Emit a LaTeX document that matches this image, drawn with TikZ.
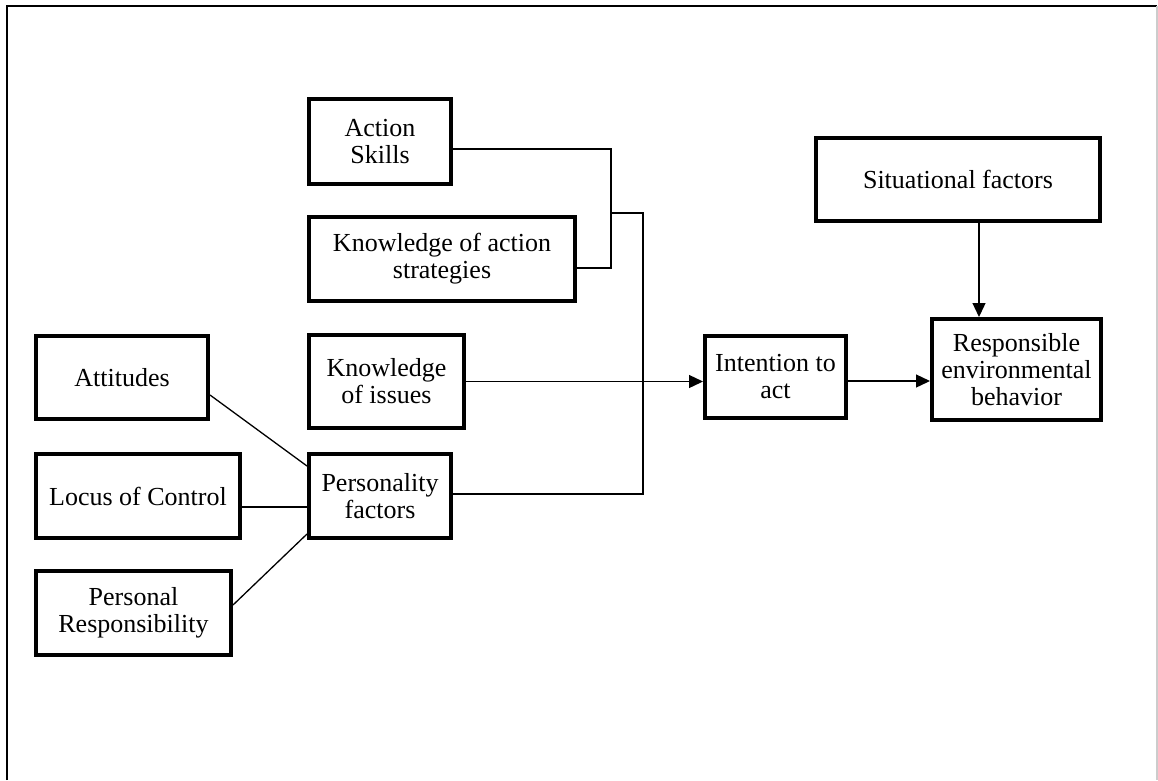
\documentclass[tikz,border=0pt]{standalone}
\usepackage{fontspec}
\setmainfont{Liberation Serif}
\usetikzlibrary{arrows.meta}
\begin{document}
\begin{tikzpicture}[x=1pt,y=-1pt,
  box/.style={draw=black,line width=4pt,fill=white,inner sep=0pt,align=center,
    font=\fontsize{26}{27}\selectfont},
  conn/.style={draw=black,line width=1.3pt},
  arr/.style={conn,-{Triangle[length=14pt,width=13pt]}}]
\useasboundingbox (0,0) rectangle (1158,780);
% frame
\draw[line width=2pt] (7,780) -- (7,6) -- (1157,6);
\draw[line width=1.2pt,black!20] (1157,6) -- (1157,780);
% nodes
\node[box,minimum width=142pt,minimum height=85pt] (AS) at (380,141.5) {Action\\Skills};
\node[box,minimum width=266pt,minimum height=84pt] (KAS) at (442,259) {Knowledge of action\\strategies};
\node[box,minimum width=155pt,minimum height=93pt] (KI) at (386.5,381.5) {Knowledge\\of issues};
\node[box,minimum width=142pt,minimum height=84pt] (PF) at (380,496) {Personality\\factors};
\node[box,minimum width=172pt,minimum height=83pt] (AT) at (122,377.5) {Attitudes};
\node[box,minimum width=204pt,minimum height=84pt] (LC) at (138,496) {Locus of Control};
\node[box,minimum width=195pt,minimum height=84pt] (PR) at (133.5,613) {Personal\\Responsibility};
\node[box,minimum width=141pt,minimum height=82pt] (IA) at (775.5,377) {Intention to\\act};
\node[box,minimum width=284pt,minimum height=83pt] (SF) at (958,179.5) {Situational factors};
\node[box,minimum width=169pt,minimum height=101pt] (RB) at (1016.5,369.5) {Responsible\\environmental\\behavior};
% helper coordinates
\coordinate (xa) at (611,0);
\coordinate (ja) at (611,213);
\coordinate (jb) at (643,213);
\coordinate (xs) at (979,0);
\coordinate (asR) at ([yshift=-7.5pt]AS.east);
\coordinate (kasR) at ([yshift=-9pt]KAS.east);
\coordinate (pfR) at ([yshift=2pt]PF.east);
\coordinate (iaR) at ([yshift=-4pt]IA.east);
\coordinate (atR) at ([yshift=-17.5pt]AT.east);
\coordinate (pfL1) at ([yshift=30pt]PF.west);
\coordinate (lcR) at ([yshift=-11pt]LC.east);
\coordinate (prR) at ([yshift=8pt]PR.east);
\coordinate (pfL3) at ([yshift=-38pt]PF.west);
% connectors
\draw[conn] (asR) -| (kasR -| xa) -- (kasR);
\draw[conn] (pfR) -| (jb) -- (ja);
\draw[arr] (KI.east) -- (KI.east -| IA.west);
\draw[arr] (iaR) -- (iaR -| RB.west);
\draw[arr] (SF.south -| xs) -- (RB.north -| xs);
\draw[conn] (atR) -- (pfL1);
\draw[conn] (lcR) -- (lcR -| PF.west);
\draw[conn] (prR) -- (pfL3);
\end{tikzpicture}
\end{document}
